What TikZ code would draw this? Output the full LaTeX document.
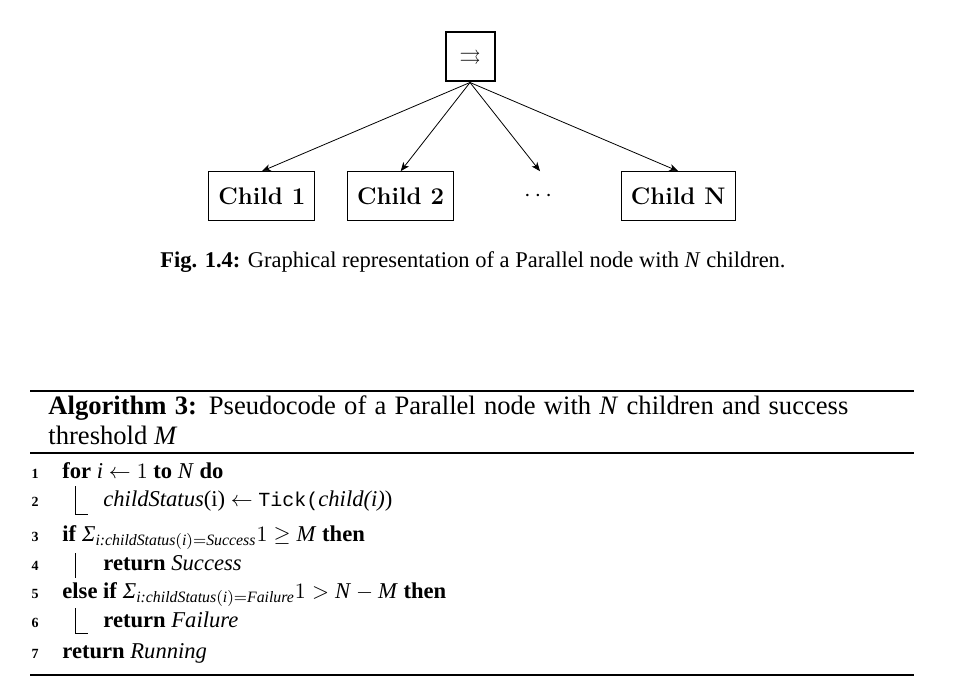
\documentclass[tikz,border=0pt]{standalone}
\usepackage{amsmath, amssymb}
\usepackage{fontspec}
\newfontfamily\timesfont{Liberation Serif}
\newfontfamily\tickfont{Liberation Mono}
\usepackage{tikz}
\usetikzlibrary{arrows.meta, positioning}
\newcommand{\algvar}[1]{\text{\textit{#1}}}

\begin{document}
\begin{tikzpicture}[x=0.5pt, y=-0.5pt,
    parbox/.style={rectangle, draw=black, line width=1pt, minimum size=24.5pt, inner sep=0pt, font=\fontsize{10.5}{12}\selectfont},
    childbox/.style={rectangle, draw=black, line width=0.5pt, minimum height=24.3pt, inner xsep=4.75pt, font=\fontsize{12}{14}\selectfont\bfseries},
    dotsbox/.style={childbox, draw=none},
    arrow/.style={-{Stealth[length=4.5pt, width=3.6pt, inset=1.3pt]}, line width=0.4pt},
    caption/.style={anchor=base, inner sep=0pt, font=\timesfont\fontsize{11.25}{13}\selectfont},
    algtitle/.style={anchor=base west, inner sep=0pt, font=\timesfont\fontsize{13.3}{15}\selectfont},
    algline/.style={anchor=base west, inner sep=0pt, font=\timesfont\fontsize{11.3}{13}\selectfont},
    lineno/.style={anchor=base east, inner sep=0pt, font=\timesfont\fontsize{7}{8}\selectfont\bfseries},
    algrule/.style={line width=0.9pt},
    blockbar/.style={line width=0.4pt}
]
\useasboundingbox (0,0) rectangle (954,700);

% Parallel node and its children
\node[parbox] (par) at (470, 57) {$\rightrightarrows$};

\node[childbox] (c1) at (261.8, 196) {Child 1};
\node[childbox] (c2) at (400.7, 196) {Child 2};
\node[dotsbox] (cdots) at (540, 196) {$\cdots$};
\node[childbox] (cn) at (678.2, 196) {Child N};

\draw[arrow] (par.south) -- (c1.north);
\draw[arrow] (par.south) -- (c2.north);
\draw[arrow] (par.south) -- (cdots.north);
\draw[arrow] (par.south) -- (cn.north);

% Figure caption
\node[caption] (figcap) at (473, 268) {\textbf{Fig. 1.4:} Graphical representation of a Parallel node with \textit{N} children.};

% Algorithm rules and title
\draw[algrule] (30, 391) -- (914, 391);
\node[algtitle] (algcap) at (48, 415) {\makebox[400pt][s]{\textbf{Algorithm 3:} Pseudocode of a Parallel node with \textit{N} children and success}};
\node[algtitle] (algcaptwo) at (48, 444.3) {threshold \textit{M}};
\draw[line width=0.8pt] (30, 453) -- (914, 453);

% Line numbers
\node[lineno] (n1) at (39, 479) {1};
\node[lineno] (n2) at (39, 506) {2};
\node[lineno] (n3) at (39, 541) {3};
\node[lineno] (n4) at (39, 570) {4};
\node[lineno] (n5) at (39, 598) {5};
\node[lineno] (n6) at (39, 627) {6};
\node[lineno] (n7) at (39, 658) {7};

% Algorithm body
\node[algline] (l1) at (62, 479) {\textbf{for} \textit{i} $\leftarrow 1$ \textbf{to} \textit{N} \textbf{do}};
\node[algline] (l2) at (103, 506) {\textit{childStatus}(i) $\leftarrow$ {\tickfont\fontsize{10}{12}\selectfont Tick(}\textit{child(i)})};
\node[algline] (l3) at (62, 541) {\textbf{if} $\algvar{Σ}_{\algvar{i:childStatus}(\algvar{i})=\algvar{Success}}1\geq\algvar{M}$ \textbf{then}};
\node[algline] (l4) at (103, 570) {\textbf{return} \textit{Success}};
\node[algline] (l5) at (62, 598) {\textbf{else if} $\algvar{Σ}_{\algvar{i:childStatus}(\algvar{i})=\algvar{Failure}}1>\algvar{N}-\algvar{M}$ \textbf{then}};
\node[algline] (l6) at (103, 627) {\textbf{return} \textit{Failure}};
\node[algline] (l7) at (62, 658) {\textbf{return} \textit{Running}};

% Block bars
\draw[blockbar] (75, 486) -- (75, 514) -- (88, 514);
\draw[blockbar] (75, 553) -- (75, 578);
\draw[blockbar] (75, 608) -- (75, 633) -- (88, 633);

\draw[algrule] (30, 675) -- (914, 675);
\end{tikzpicture}
\end{document}
